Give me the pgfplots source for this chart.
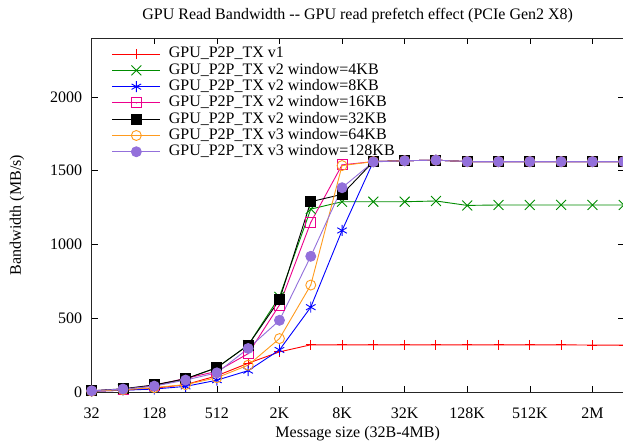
\documentclass[border=0pt]{standalone}
\usepackage{fontspec}
\setmainfont{Liberation Serif}
\usepackage{pgfplots}
\usepackage{pgfplotstable}
\pgfplotsset{compat=1.18}

\definecolor{gpgreen}{RGB}{0,140,0}
\definecolor{gporange}{RGB}{255,155,30}
\definecolor{gppurple}{RGB}{147,112,219}

% open circle and open square, each with a small centre dot
\pgfdeclareplotmark{odot}{%
  \pgfpathcircle{\pgfpointorigin}{\pgfplotmarksize}\pgfusepathqstroke
  \pgfpathcircle{\pgfpointorigin}{0.6pt}\pgfusepathqfill}
\pgfdeclareplotmark{sqdot}{%
  \pgfpathrectangle{\pgfpoint{-\pgfplotmarksize}{-\pgfplotmarksize}}%
    {\pgfpoint{2\pgfplotmarksize}{2\pgfplotmarksize}}\pgfusepathqstroke
  \pgfpathcircle{\pgfpointorigin}{0.6pt}\pgfusepathqfill}

\newcommand{\chartfont}{\fontsize{16}{19}\selectfont}

% Bandwidth (MB/s) per message size for each prefetch variant
\pgfplotstableread{
size     v1  w4   w8   w16  w32  w64  w128
32       5   7    5    8    8    6    8
64       12  18   12   20   22   15   20
128      25  42   20   45   48   30   40
256      50  88   38   92   90   50   81
512      110 165  80   140  165  97   130
1024     195 318  145  260  318  182  295
2048     272 645  285  590  625  362  486
4096     320 1240 575  1150 1290 725  920
8192     320 1290 1095 1540 1340 1535 1385
16384    320 1290 1562 1562 1562 1562 1560
32768    320 1290 1568 1568 1568 1568 1568
65536    320 1295 1572 1572 1572 1572 1572
131072   320 1265 1562 1562 1562 1562 1562
262144   320 1268 1562 1562 1562 1562 1562
524288   320 1268 1562 1562 1562 1562 1562
1048576  320 1268 1562 1562 1562 1562 1562
2097152  318 1268 1562 1562 1562 1562 1562
4194304  318 1268 1562 1562 1562 1562 1562
}\bw

\begin{document}
\begin{tikzpicture}
\begin{axis}[
  at={(91.7pt,53pt)}, anchor=south west,
  scale only axis, width=532pt, height=354pt,
  xmode=log, log basis x=2,
  xmin=32, xmax=4194304, ymin=0, ymax=2400,
  xtick={32,128,512,2048,8192,32768,131072,524288,2097152},
  xticklabels={32,128,512,2K,8K,32K,128K,512K,2M},
  ytick={0,500,1000,1500,2000},
  /pgf/number format/1000 sep={},
  /pgf/number format/assume math mode=true,
  tick align=inside, major tick length=6pt,
  tick style={black, line width=0.6pt},
  axis line style={line width=0.9pt, black!85},
  ticklabel style={font=\chartfont},
  yticklabel style={inner sep=0pt, xshift=-9.5pt},
  xticklabel style={inner sep=0pt, yshift=-16pt},
  xlabel={Message size (32B-4MB)},
  xlabel style={at={(axis description cs:0.5,-0.118)}, anchor=center,
    font=\chartfont},
  ylabel={Bandwidth (MB/s)},
  ylabel style={at={(axis description cs:-0.1404,0.5)}, anchor=center,
    font=\chartfont},
  clip=false,
  legend cell align=left,
  legend style={at={(axis description cs:0.0376,0.978)}, anchor=north west,
    draw=none, fill=none, inner sep=0pt, row sep=0pt, column sep=8pt,
    font=\chartfont,
    nodes={inner sep=0pt, text height=12pt, text depth=4.27pt}},
  legend image code/.code={%
    \draw[mark repeat=2, mark phase=2, #1]
      plot coordinates {(0pt,0pt) (24pt,0pt) (48pt,0pt)};},
  every axis plot/.append style={line width=0.9pt, mark size=5pt,
    mark options={solid, line width=0.9pt}},
]
\addplot[red, mark=+] table[x=size, y=v1] {\bw};
\addlegendentry{GPU\_P2P\_TX v1}
\addplot[gpgreen, mark=x, mark size=7pt] table[x=size, y=w4] {\bw};
\addlegendentry{GPU\_P2P\_TX v2 window=4KB}
\addplot[blue, mark=asterisk, mark size=5.5pt] table[x=size, y=w8] {\bw};
\addlegendentry{GPU\_P2P\_TX v2 window=8KB}
\addplot[magenta, mark=sqdot] table[x=size, y=w16] {\bw};
\addlegendentry{GPU\_P2P\_TX v2 window=16KB}
\addplot[black, mark=square*] table[x=size, y=w32] {\bw};
\addlegendentry{GPU\_P2P\_TX v2 window=32KB}
\addplot[gporange, mark=odot] table[x=size, y=w64] {\bw};
\addlegendentry{GPU\_P2P\_TX v3 window=64KB}
\addplot[gppurple, mark=*] table[x=size, y=w128] {\bw};
\addlegendentry{GPU\_P2P\_TX v3 window=128KB}
\node[font=\chartfont, anchor=center]
  at (axis description cs:0.5,1.062)
  {GPU Read Bandwidth -{}- GPU read prefetch effect (PCIe Gen2 X8)};
\end{axis}
\pgfresetboundingbox
\path (0pt,0pt) rectangle (623pt,445pt);
\end{tikzpicture}
\end{document}
